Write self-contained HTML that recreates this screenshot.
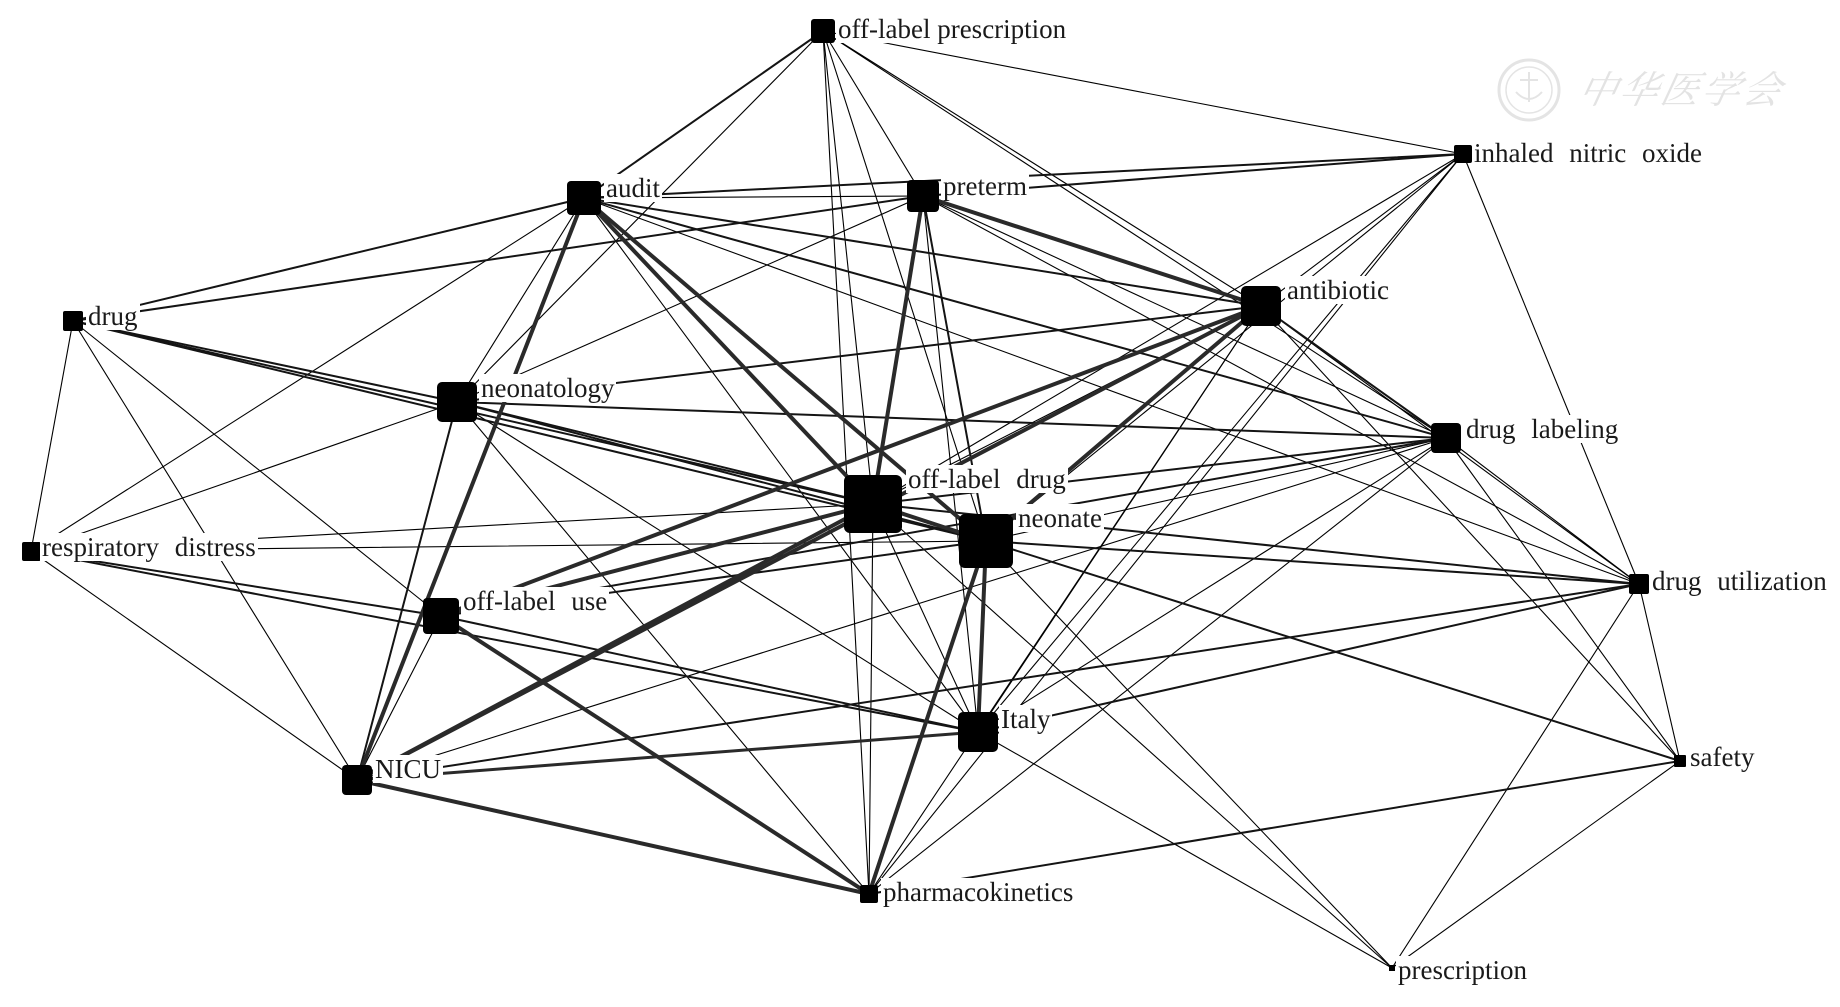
<!DOCTYPE html>
<html>
<head>
<meta charset="utf-8">
<style>
html,body{margin:0;padding:0;background:#fff;}
#wrap{position:relative;width:1840px;height:1007px;overflow:hidden;background:#fff;}
svg{position:absolute;left:0;top:0;}
.t{stroke:#2a2a2a;stroke-width:4;}
.m{stroke:#141414;stroke-width:2;}
.s{stroke:#000;stroke-width:1.1;}
.lb{position:absolute;font-family:"Liberation Sans","Liberation Serif",serif;font-family:"Liberation Serif","Times New Roman",serif;font-size:27px;line-height:28px;height:28px;color:#1a1a1a;background:#fff;padding:0 2px;white-space:pre;word-spacing:9px;}
.wm{position:absolute;left:1580px;top:62px;font-family:"Noto Serif CJK SC","WenQuanYi Zen Hei",serif;font-size:38px;letter-spacing:3px;color:#e3e3e3;font-style:italic;transform:skewX(-12deg);line-height:50px;}
</style>
</head>
<body>
<div id="wrap">
<svg width="1840" height="1007" viewBox="0 0 1840 1007">
<g fill="none" stroke-linecap="round">
<line class="s" x1="823" y1="31" x2="457" y2="402"/>
<line class="s" x1="823" y1="31" x2="923" y2="196"/>
<line class="s" x1="823" y1="31" x2="873" y2="504"/>
<line class="s" x1="823" y1="31" x2="986" y2="541"/>
<line class="s" x1="823" y1="31" x2="1261" y2="306"/>
<line class="s" x1="823" y1="31" x2="1446" y2="438"/>
<line class="s" x1="823" y1="31" x2="1463" y2="154"/>
<line class="s" x1="823" y1="31" x2="869" y2="894"/>
<line class="s" x1="584" y1="198" x2="923" y2="196"/>
<line class="s" x1="584" y1="198" x2="31" y2="551"/>
<line class="s" x1="584" y1="198" x2="457" y2="402"/>
<line class="s" x1="584" y1="198" x2="978" y2="732"/>
<line class="s" x1="584" y1="198" x2="1639" y2="584"/>
<line class="s" x1="923" y1="196" x2="1446" y2="438"/>
<line class="s" x1="923" y1="196" x2="978" y2="732"/>
<line class="s" x1="923" y1="196" x2="457" y2="402"/>
<line class="s" x1="923" y1="196" x2="1639" y2="584"/>
<line class="s" x1="1463" y1="154" x2="1261" y2="306"/>
<line class="s" x1="1463" y1="154" x2="873" y2="504"/>
<line class="s" x1="1463" y1="154" x2="986" y2="541"/>
<line class="s" x1="1463" y1="154" x2="978" y2="732"/>
<line class="s" x1="1463" y1="154" x2="869" y2="894"/>
<line class="s" x1="1463" y1="154" x2="1639" y2="584"/>
<line class="s" x1="73" y1="321" x2="31" y2="551"/>
<line class="s" x1="73" y1="321" x2="357" y2="780"/>
<line class="s" x1="73" y1="321" x2="441" y2="616"/>
<line class="s" x1="457" y1="402" x2="31" y2="551"/>
<line class="s" x1="457" y1="402" x2="869" y2="894"/>
<line class="s" x1="457" y1="402" x2="978" y2="732"/>
<line class="s" x1="1446" y1="438" x2="986" y2="541"/>
<line class="s" x1="1446" y1="438" x2="978" y2="732"/>
<line class="s" x1="1446" y1="438" x2="869" y2="894"/>
<line class="s" x1="1446" y1="438" x2="1680" y2="761"/>
<line class="s" x1="1446" y1="438" x2="1639" y2="584"/>
<line class="s" x1="1446" y1="438" x2="357" y2="780"/>
<line class="s" x1="31" y1="551" x2="357" y2="780"/>
<line class="s" x1="31" y1="551" x2="873" y2="504"/>
<line class="s" x1="31" y1="551" x2="986" y2="541"/>
<line class="s" x1="978" y1="732" x2="1392" y2="968"/>
<line class="s" x1="978" y1="732" x2="873" y2="504"/>
<line class="s" x1="1680" y1="761" x2="1392" y2="968"/>
<line class="s" x1="1639" y1="584" x2="1392" y2="968"/>
<line class="s" x1="1261" y1="306" x2="1680" y2="761"/>
<line class="s" x1="1639" y1="584" x2="1680" y2="761"/>
<line class="s" x1="1261" y1="306" x2="1639" y2="584"/>
<line class="s" x1="873" y1="504" x2="869" y2="894"/>
<line class="s" x1="1261" y1="306" x2="869" y2="894"/>
<line class="s" x1="1261" y1="306" x2="978" y2="732"/>
<line class="s" x1="441" y1="616" x2="357" y2="780"/>
<line class="s" x1="986" y1="541" x2="1392" y2="968"/>
<line class="s" x1="873" y1="504" x2="1392" y2="968"/>
<line class="s" x1="1261" y1="306" x2="873" y2="504"/>
<line class="m" x1="584" y1="198" x2="1463" y2="154"/>
<line class="m" x1="584" y1="198" x2="1261" y2="306"/>
<line class="m" x1="584" y1="198" x2="1446" y2="438"/>
<line class="m" x1="923" y1="196" x2="1463" y2="154"/>
<line class="m" x1="923" y1="196" x2="986" y2="541"/>
<line class="m" x1="457" y1="402" x2="1261" y2="306"/>
<line class="m" x1="457" y1="402" x2="1446" y2="438"/>
<line class="m" x1="986" y1="541" x2="1639" y2="584"/>
<line class="m" x1="986" y1="541" x2="1680" y2="761"/>
<line class="m" x1="869" y1="894" x2="1680" y2="761"/>
<line class="m" x1="873" y1="504" x2="1639" y2="584"/>
<line class="m" x1="978" y1="732" x2="1639" y2="584"/>
<line class="m" x1="357" y1="780" x2="1639" y2="584"/>
<line class="m" x1="31" y1="551" x2="441" y2="616"/>
<line class="m" x1="73" y1="321" x2="457" y2="402"/>
<line class="m" x1="73" y1="321" x2="873" y2="504"/>
<line class="m" x1="73" y1="321" x2="986" y2="541"/>
<line class="m" x1="457" y1="402" x2="873" y2="504"/>
<line class="m" x1="457" y1="402" x2="986" y2="541"/>
<line class="m" x1="1261" y1="306" x2="1446" y2="438"/>
<line class="m" x1="1446" y1="438" x2="873" y2="504"/>
<line class="m" x1="1446" y1="438" x2="441" y2="616"/>
<line class="m" x1="441" y1="616" x2="978" y2="732"/>
<line class="m" x1="31" y1="551" x2="978" y2="732"/>
<line class="m" x1="441" y1="616" x2="986" y2="541"/>
<line class="m" x1="73" y1="321" x2="584" y2="198"/>
<line class="m" x1="73" y1="321" x2="923" y2="196"/>
<line class="m" x1="457" y1="402" x2="357" y2="780"/>
<line class="m" x1="584" y1="198" x2="823" y2="31"/>
<line class="t" x1="584" y1="198" x2="357" y2="780"/>
<line class="t" x1="584" y1="198" x2="873" y2="504"/>
<line class="t" x1="584" y1="198" x2="986" y2="541"/>
<line class="t" x1="923" y1="196" x2="873" y2="504"/>
<line class="t" x1="923" y1="196" x2="1261" y2="306"/>
<line class="t" x1="1261" y1="306" x2="441" y2="616"/>
<line class="t" x1="1261" y1="306" x2="357" y2="780"/>
<line class="t" x1="1261" y1="306" x2="986" y2="541"/>
<line class="t" x1="873" y1="504" x2="441" y2="616"/>
<line class="t" x1="873" y1="504" x2="357" y2="780"/>
<line class="t" x1="986" y1="541" x2="978" y2="732"/>
<line class="t" x1="986" y1="541" x2="869" y2="894"/>
<line class="t" x1="357" y1="780" x2="869" y2="894"/>
<line class="t" x1="441" y1="616" x2="869" y2="894"/>
<line class="t" x1="357" y1="780" x2="978" y2="732" style="stroke-width:3"/>
<line class="t" x1="873" y1="504" x2="986" y2="541"/>
</g>
<g fill="none" stroke="#e4e4e4">
<circle cx="1529" cy="90" r="30" stroke-width="3"/>
<circle cx="1529" cy="90" r="23" stroke-width="1.5"/>
<path d="M1516 92 q13 14 26 0 M1529 72 v30 M1520 80 h18" stroke-width="2"/>
</g>
<g fill="#000">
<rect x="811" y="19" width="24" height="24" rx="3"/>
<rect x="567" y="181" width="34" height="34" rx="4"/>
<rect x="907" y="180" width="32" height="32" rx="4"/>
<rect x="1454" y="145" width="18" height="18" rx="2"/>
<rect x="1241" y="286" width="40" height="40" rx="5"/>
<rect x="63" y="311" width="20" height="20" rx="2"/>
<rect x="437" y="382" width="40" height="40" rx="5"/>
<rect x="1431" y="423" width="30" height="30" rx="4"/>
<rect x="844" y="475" width="58" height="58" rx="6"/>
<rect x="959" y="514" width="54" height="54" rx="6"/>
<rect x="22" y="542" width="19" height="19" rx="2"/>
<rect x="1629" y="574" width="20" height="20" rx="2"/>
<rect x="423" y="598" width="36" height="36" rx="4"/>
<rect x="958" y="712" width="40" height="40" rx="5"/>
<rect x="342" y="765" width="30" height="30" rx="4"/>
<rect x="1674" y="755" width="12" height="12" rx="1"/>
<rect x="860" y="885" width="18" height="18" rx="2"/>
<rect x="1389" y="965" width="6" height="6"/>
</g>
</svg>
<div class="wm">中华医学会</div>
<div class="lb" style="left:836px;top:15px;word-spacing:0">off-label prescription</div>
<div class="lb" style="left:604px;top:174px">audit</div>
<div class="lb" style="left:941px;top:172px">preterm</div>
<div class="lb" style="left:1472px;top:139px">inhaled nitric oxide</div>
<div class="lb" style="left:1285px;top:276px">antibiotic</div>
<div class="lb" style="left:86px;top:302px">drug</div>
<div class="lb" style="left:479px;top:374px">neonatology</div>
<div class="lb" style="left:1464px;top:415px">drug labeling</div>
<div class="lb" style="left:906px;top:465px">off-label drug</div>
<div class="lb" style="left:1016px;top:504px">neonate</div>
<div class="lb" style="left:40px;top:533px">respiratory distress</div>
<div class="lb" style="left:1650px;top:567px">drug utilization</div>
<div class="lb" style="left:461px;top:587px">off-label use</div>
<div class="lb" style="left:999px;top:705px">Italy</div>
<div class="lb" style="left:373px;top:755px">NICU</div>
<div class="lb" style="left:1688px;top:743px">safety</div>
<div class="lb" style="left:881px;top:878px">pharmacokinetics</div>
<div class="lb" style="left:1396px;top:956px">prescription</div>
</div>
</body>
</html>
